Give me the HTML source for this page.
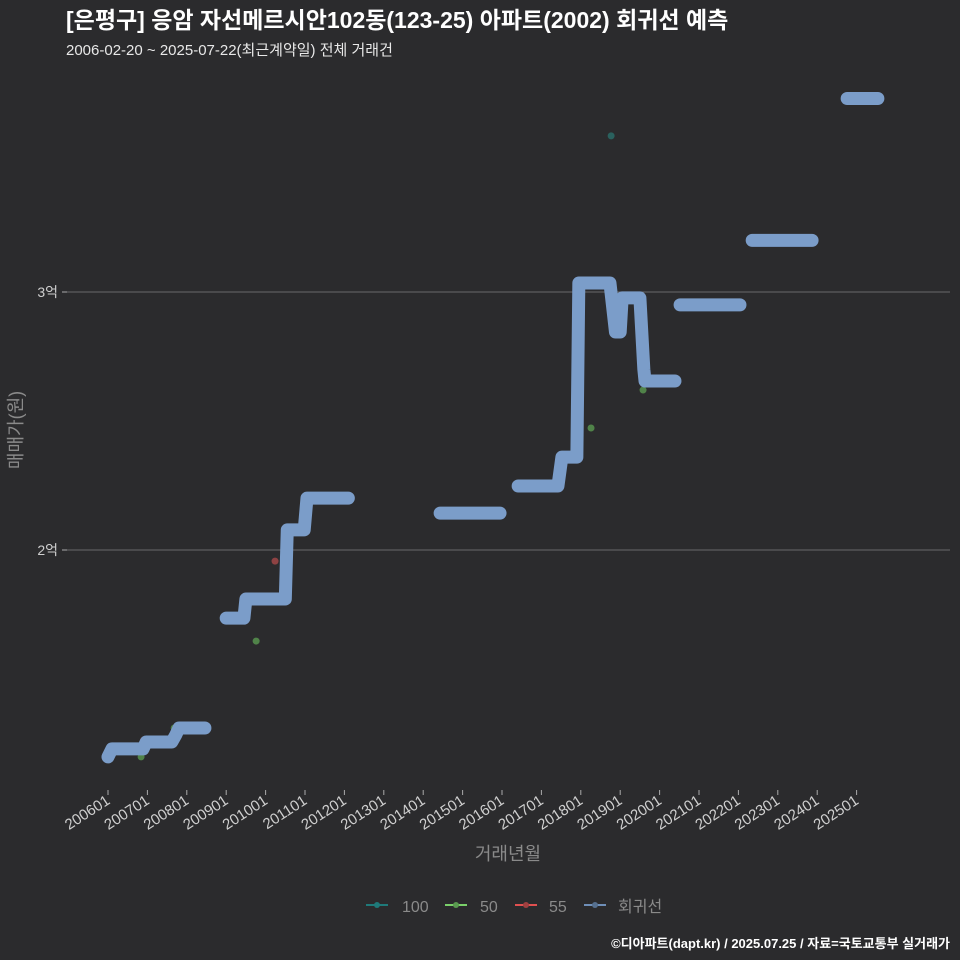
<!DOCTYPE html>
<html><head><meta charset="utf-8"><style>
body{margin:0;background:#2b2b2d;}
svg{display:block;font-family:"Liberation Sans","Noto Sans CJK KR",sans-serif;}
</style></head><body>
<svg id="chart" width="960" height="960" viewBox="0 0 960 960">
<rect width="960" height="960" fill="#2b2b2d"/>
<text x="66" y="28" fill="#ffffff" font-size="23" font-weight="bold">[은평구] 응암 자선메르시안102동(123-25) 아파트(2002) 회귀선 예측</text>
<text x="66" y="55" fill="#e8e8e8" font-size="15">2006-02-20 ~ 2025-07-22(최근계약일) 전체 거래건</text>
<g id="grid"></g><g id="xaxis"></g><g id="yaxis"></g><g id="points"></g><g id="series"></g>
<text x="22" y="430" fill="#8a8a8a" font-size="18" transform="rotate(-90 22 430)" text-anchor="middle">매매가(원)</text>
<text x="508" y="860" fill="#8a8a8a" font-size="18" text-anchor="middle">거래년월</text>
<g font-size="16" fill="#8a8a8a">
<g><line x1="366" y1="905" x2="388" y2="905" stroke="#1f7a7a" stroke-width="2"/><circle cx="377" cy="905" r="3" fill="#1f7a7a"/><text x="402" y="912">100</text></g>
<g><line x1="445" y1="905" x2="467" y2="905" stroke="#7ad06a" stroke-width="2"/><circle cx="456" cy="905" r="3" fill="#5a9a50"/><text x="480" y="912">50</text></g>
<g><line x1="515" y1="905" x2="537" y2="905" stroke="#e05050" stroke-width="2"/><circle cx="526" cy="905" r="3" fill="#a04040"/><text x="549" y="912">55</text></g>
<g><line x1="584" y1="905" x2="606" y2="905" stroke="#6f8fb8" stroke-width="2"/><circle cx="595" cy="905" r="3" fill="#56708f"/><text x="618" y="912">회귀선</text></g>
</g>
<text x="950" y="948" fill="#ffffff" font-size="13" font-weight="bold" text-anchor="end">©디아파트(dapt.kr) / 2025.07.25 / 자료=국토교통부 실거래가</text>
</svg>
<script>
// regression line segments: time (fractional year), price (만원)
const regSeg = [0,0,0,0,0,0,0,0, 1,1,1,1,1,1,1,1, 2,2, 3,3,3,3,3,3,3,3,3,3,3,3,3,3, 4,4, 5,5, 6,6];
const regTime = [2006.0,2006.1,2006.89,2006.97,2007.62,2007.72,2007.8,2008.46,
 2009.0,2009.45,2009.5,2010.5,2010.55,2010.98,2011.05,2012.1,
 2014.43,2015.95,
 2016.41,2017.42,2017.52,2017.9,2017.95,2018.0,2018.74,2018.88,2019.0,2019.05,2019.5,2019.6,2019.63,2020.39,
 2020.52,2022.04,
 2022.35,2023.87,
 2024.76,2025.54];
const regValue = [11980,12290,12290,12560,12560,12830,13100,13100,
 17360,17360,18100,18100,20780,20780,22010,22010,
 21430,21430,
 22480,22480,23600,23600,30350,30350,30350,28450,28450,29770,29770,27000,26550,26550,
 29500,29500,
 32000,32000,
 37500,37500];
const ptGroup = ["50","50","50","50","50","50","100","55","55","55"];
const ptTime = [2006.84,2007.68,2009.76,2009.74,2018.26,2019.58,2018.77,2010.24,2006.9,2007.75];
const ptValue = [11980,13100,16470,18180,24730,26200,36050,19570,12620,13150];
const xTicks = ["200601","200701","200801","200901","201001","201101","201201","201301","201401","201501","201601","201701","201801","201901","202001","202101","202201","202301","202401","202501"];
const yTicks = [20000,30000];
const yTickLabels = ["2억","3억"];

const NS="http://www.w3.org/2000/svg";
function X(t){return 108+(t-2006)*39.4;}
function Y(v){return 550-(v-20000)*0.0258;}
function mk(tag,attrs,parent){const e=document.createElementNS(NS,tag);for(const k in attrs)e.setAttribute(k,attrs[k]);parent.appendChild(e);return e;}
const grid=document.getElementById('grid'),xa=document.getElementById('xaxis'),ya=document.getElementById('yaxis'),ser=document.getElementById('series'),pts=document.getElementById('points');
yTicks.forEach((v,i)=>{
 const l=mk('line',{x1:67,x2:950,y1:Y(v),y2:Y(v),stroke:'#6a6a6a','stroke-width':1},grid);
 
 
 const tk=mk('line',{x1:62,x2:67,y1:Y(v),y2:Y(v),stroke:'#aaa'},ya);
 
 
 const t=mk('text',{x:58,y:Y(v)+5,fill:'#cfcfcf','font-size':14,'text-anchor':'end'},ya);
 t.textContent=yTickLabels[i];
 
 
});
xTicks.forEach(s=>{
 const yr=+s.slice(0,4)+(+s.slice(4)-1)/12;const x=X(yr);
 const tk=mk('line',{x1:x,x2:x,y1:790,y2:795,stroke:'#aaa'},xa);
 
 
 const t=mk('text',{x:x+3,y:803,fill:'#cfcfcf','font-size':15,'text-anchor':'end',transform:`rotate(-33 ${x+3} 803)`},xa);
 t.textContent=s;
 
 
});
const colors={"100":"#2a6f6a","50":"#5a9a50","55":"#a84848"};
ptTime.forEach((t,i)=>{
 const c=mk('circle',{cx:X(t),cy:Y(ptValue[i]),r:3.5,fill:colors[ptGroup[i]],opacity:0.8},pts);
 
 
});
const segs={};
regSeg.forEach((s,i)=>{(segs[s]=segs[s]||[]).push([X(regTime[i]),Y(regValue[i])]);});
Object.keys(segs).forEach(k=>{
 const p=mk('polyline',{points:segs[k].map(a=>a.join(',')).join(' '),fill:'none',stroke:'#7b9dc9','stroke-width':13,'stroke-linecap':'round','stroke-linejoin':'round'},ser);
 
 
});
</script>
</body></html>
